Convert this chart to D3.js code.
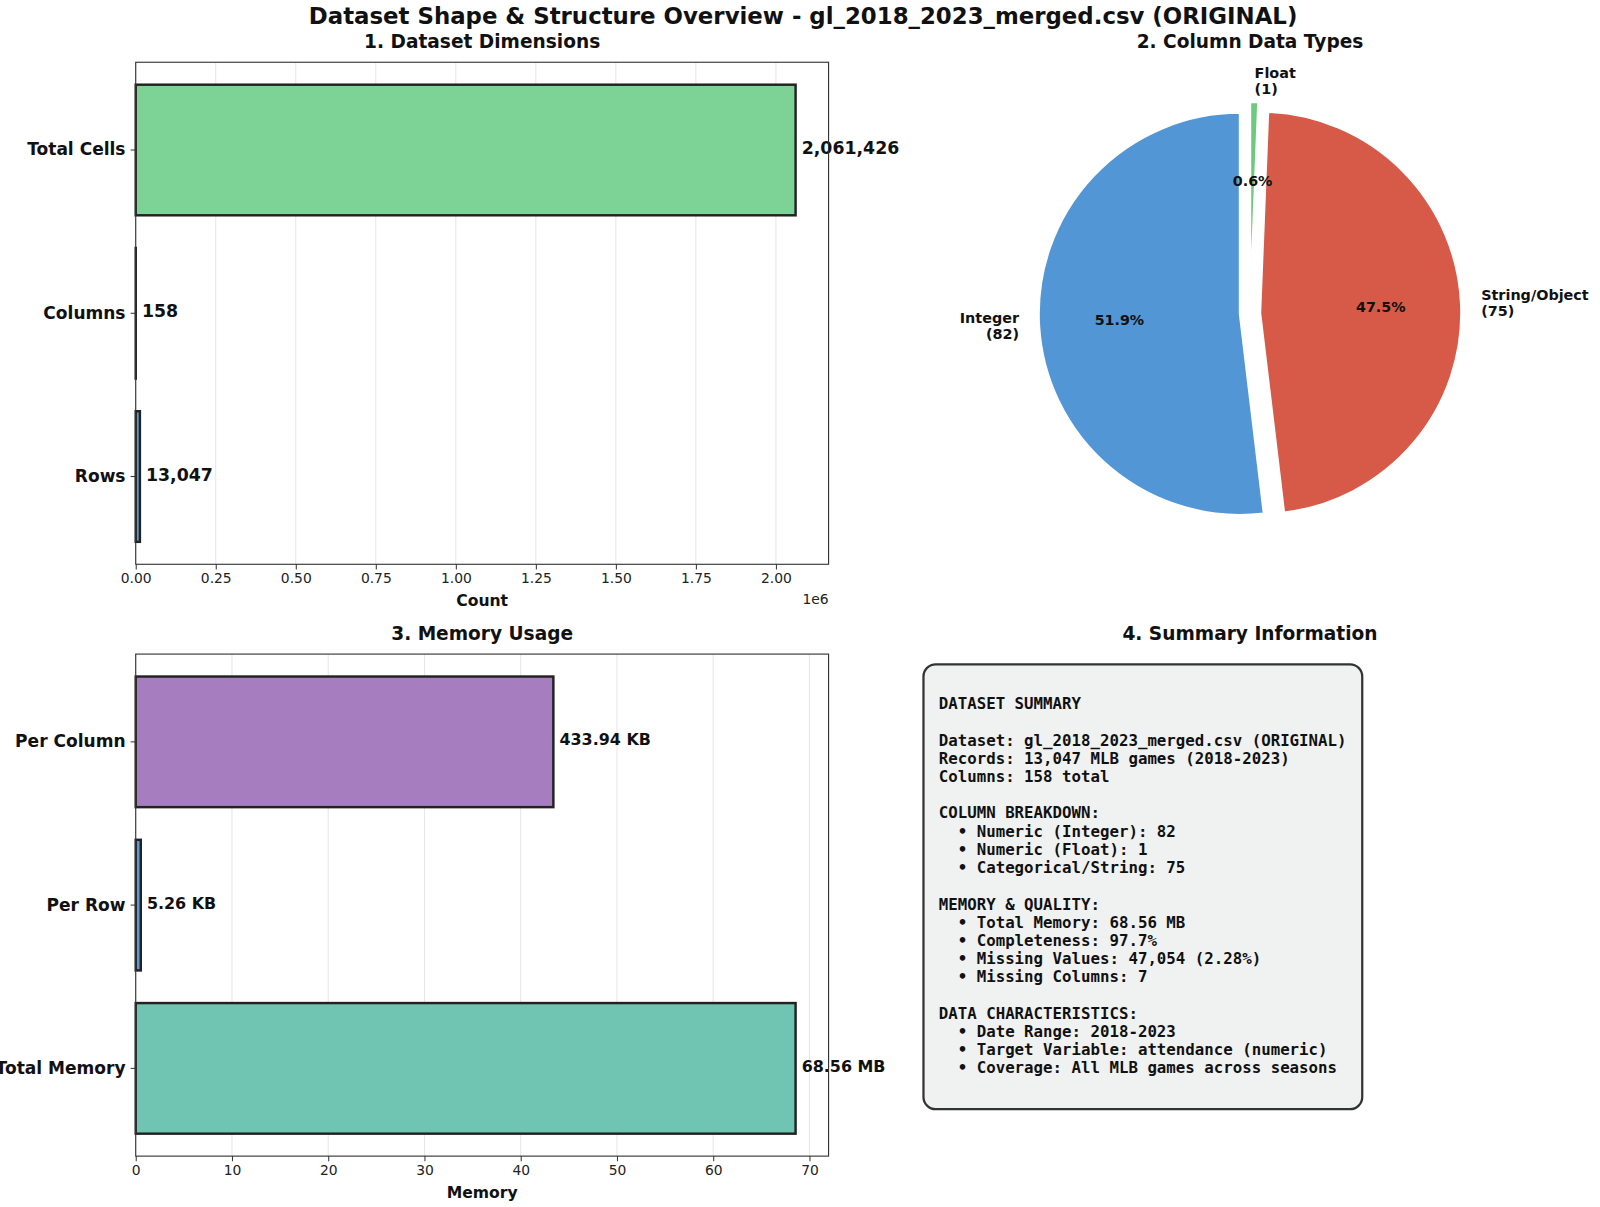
<!DOCTYPE html>
<html>
<head>
<meta charset="utf-8">
<script src="https://cdn.jsdelivr.net/npm/d3@7/dist/d3.min.js"></script>
<style>
  html, body { margin: 0; padding: 0; background: #fff; }
  svg { display: block; font-family: "DejaVu Sans", sans-serif; }
</style>
</head>
<body>
<svg id="chart" width="1600" height="1207"></svg>
<script>
// ---------------- DATA ----------------
const mainTitle = "Dataset Shape & Structure Overview - gl_2018_2023_merged.csv (ORIGINAL)";

const dimCategories = ["Total Cells", "Columns", "Rows"];
const dimValues = [2061426, 158, 13047];
const dimLabels = ["2,061,426", "158", "13,047"];
const dimTicks = [0, 0.25, 0.5, 0.75, 1.0, 1.25, 1.5, 1.75, 2.0];

const typeNames = ["Integer", "String/Object", "Float"];
const typeCounts = [82, 75, 1];

const memCategories = ["Per Column", "Per Row", "Total Memory"];
const memValues = [43.394, 0.526, 68.56];
const memLabels = ["433.94 KB", "5.26 KB", "68.56 MB"];
const memTicks = [0, 10, 20, 30, 40, 50, 60, 70];

const summaryLines = [
  "DATASET SUMMARY",
  "",
  "Dataset: gl_2018_2023_merged.csv (ORIGINAL)",
  "Records: 13,047 MLB games (2018-2023)",
  "Columns: 158 total",
  "",
  "COLUMN BREAKDOWN:",
  "  \u2022 Numeric (Integer): 82",
  "  \u2022 Numeric (Float): 1",
  "  \u2022 Categorical/String: 75",
  "",
  "MEMORY & QUALITY:",
  "  \u2022 Total Memory: 68.56 MB",
  "  \u2022 Completeness: 97.7%",
  "  \u2022 Missing Values: 47,054 (2.28%)",
  "  \u2022 Missing Columns: 7",
  "",
  "DATA CHARACTERISTICS:",
  "  \u2022 Date Range: 2018-2023",
  "  \u2022 Target Variable: attendance (numeric)",
  "  \u2022 Coverage: All MLB games across seasons"
];

// ---------------- STYLE ----------------
const dimColors = { "Total Cells": "#7dd396", "Columns": "#d65a47", "Rows": "#5b9bd5" };
const memColors = { "Per Column": "#a67dbf", "Per Row": "#5b9bd5", "Total Memory": "#6fc5b2" };
const pieColors = { "Integer": "#5296d5", "String/Object": "#d65a47", "Float": "#6cc97f" };

const root = d3.select("#chart").append("g").attr("transform", `scale(${1 / 0.98})`);
const svg = root;

svg.append("text")
  .attr("x", 787).attr("y", 23.5)
  .attr("text-anchor", "middle")
  .attr("font-size", 22.4).attr("font-weight", "bold")
  .attr("fill", "#111")
  .text(mainTitle);

// ---------------- BAR PANEL ----------------
function barPanel(opts) {
  const { left, right, top, bottom, cats, vals, labels, colors, ticks, tickFmt, xTitle, title, offsetText, valSize } = opts;
  const maxV = d3.max(vals);
  const x = d3.scaleLinear().domain([0, maxV * 1.05]).range([left, right]);
  const y = d3.scaleBand().domain(cats).range([top, bottom]).paddingInner(0.2).paddingOuter(0.1375);
  const g = svg.append("g");

  g.append("text")
    .attr("x", (left + right) / 2).attr("y", top - 14)
    .attr("text-anchor", "middle")
    .attr("font-size", 18.2).attr("font-weight", "bold").attr("fill", "#111")
    .text(title);

  g.selectAll("line.grid").data(ticks).enter().append("line")
    .attr("class", "grid")
    .attr("x1", d => x(d)).attr("x2", d => x(d))
    .attr("y1", top).attr("y2", bottom)
    .attr("stroke", "#e6e6e6").attr("stroke-width", 1);

  g.selectAll("rect.bar").data(cats).enter().append("rect")
    .attr("class", "bar")
    .attr("x", x(0))
    .attr("y", d => y(d))
    .attr("width", (d, i) => Math.max(0, x(vals[i]) - x(0)))
    .attr("height", y.bandwidth())
    .attr("fill", d => colors[d])
    .attr("stroke", "#222").attr("stroke-width", 2.4);

  g.selectAll("text.val").data(cats).enter().append("text")
    .attr("class", "val")
    .attr("x", (d, i) => x(vals[i]) + 6)
    .attr("y", d => y(d) + y.bandwidth() / 2 - 1)
    .attr("dominant-baseline", "middle")
    .attr("font-size", valSize).attr("font-weight", "bold").attr("fill", "#111")
    .text((d, i) => labels[i]);

  g.append("rect")
    .attr("x", left).attr("y", top)
    .attr("width", right - left).attr("height", bottom - top)
    .attr("fill", "none").attr("stroke", "#333").attr("stroke-width", 1.1);

  const xa = g.append("g").attr("transform", `translate(0,${bottom})`)
    .call(d3.axisBottom(x).tickValues(ticks).tickFormat(tickFmt).tickSize(5).tickPadding(4));
  xa.select(".domain").remove();
  xa.selectAll(".tick line").attr("stroke", "#333");
  xa.selectAll(".tick text").attr("font-size", 13.6).attr("fill", "#222")
    .attr("font-family", "DejaVu Sans, sans-serif");

  const ya = g.append("g").attr("transform", `translate(${left},0)`)
    .call(d3.axisLeft(y).tickSize(5).tickPadding(5));
  ya.select(".domain").remove();
  ya.selectAll(".tick line").attr("stroke", "#333");
  ya.selectAll(".tick text").attr("font-size", 16.7).attr("font-weight", "bold").attr("fill", "#111")
    .attr("font-family", "DejaVu Sans, sans-serif");

  g.append("text")
    .attr("x", (left + right) / 2).attr("y", bottom + 41)
    .attr("text-anchor", "middle")
    .attr("font-size", 15.3).attr("font-weight", "bold").attr("fill", "#111")
    .text(xTitle);

  if (offsetText) {
    g.append("text")
      .attr("x", right).attr("y", bottom + 39)
      .attr("text-anchor", "end")
      .attr("font-size", 13.6).attr("fill", "#222")
      .text(offsetText);
  }
}

barPanel({
  left: 133, right: 812, top: 61, bottom: 553,
  cats: dimCategories, vals: dimValues, labels: dimLabels, colors: dimColors,
  ticks: dimTicks.map(t => t * 1e6), tickFmt: d => d3.format(".2f")(d / 1e6),
  xTitle: "Count", title: "1. Dataset Dimensions", offsetText: "1e6", valSize: 17
});

barPanel({
  left: 133, right: 812, top: 641, bottom: 1133,
  cats: memCategories, vals: memValues, labels: memLabels, colors: memColors,
  ticks: memTicks, tickFmt: d => String(d),
  xTitle: "Memory", title: "3. Memory Usage", offsetText: null, valSize: 15.6
});

// ---------------- PIE ----------------
(function () {
  const cx = 1225, cy = 307, r = 197, ex = 10;
  const total = d3.sum(typeCounts);
  const pieData = d3.pie().sort(null).startAngle(0).endAngle(-2 * Math.PI)(typeCounts);
  const arc = d3.arc().innerRadius(0).outerRadius(r);
  const g = svg.append("g").attr("transform", `translate(${cx},${cy})`);

  svg.append("text")
    .attr("x", cx).attr("y", 47)
    .attr("text-anchor", "middle")
    .attr("font-size", 18.2).attr("font-weight", "bold").attr("fill", "#111")
    .text("2. Column Data Types");

  pieData.forEach((d, i) => {
    const mid = (d.startAngle + d.endAngle) / 2;
    const ox = Math.sin(mid) * ex, oy = -Math.cos(mid) * ex;
    g.append("path")
      .attr("d", arc(d))
      .attr("transform", `translate(${ox},${oy})`)
      .attr("fill", pieColors[typeNames[i]])
      .attr("stroke", "#fff").attr("stroke-width", 2);
  });

  pieData.forEach((d, i) => {
    const mid = (d.startAngle + d.endAngle) / 2;
    const sx = Math.sin(mid), sy = -Math.cos(mid);
    const ox = sx * ex, oy = sy * ex;
    const pr = 0.6 * r;
    g.append("text")
      .attr("x", ox + sx * pr).attr("y", oy + sy * pr)
      .attr("text-anchor", "middle").attr("dominant-baseline", "middle")
      .attr("font-size", 14).attr("font-weight", "bold").attr("fill", "#111")
      .text((typeCounts[i] / total * 100).toFixed(1) + "%");
    const lr = 1.1 * r;
    const lx = ox + sx * lr, ly = oy + sy * lr;
    const t = g.append("text")
      .attr("text-anchor", lx < 0 ? "end" : "start")
      .attr("font-size", 14.1).attr("font-weight", "bold").attr("fill", "#111");
    const lines = [typeNames[i], "(" + typeCounts[i] + ")"];
    const lh = 16.5;
    lines.forEach((ln, k) => {
      t.append("tspan")
        .attr("x", lx)
        .attr("y", ly + (k - (lines.length - 1) / 2) * lh)
        .attr("dominant-baseline", "middle")
        .text(ln);
    });
  });
})();

// ---------------- SUMMARY ----------------
(function () {
  svg.append("text")
    .attr("x", 1225).attr("y", 627)
    .attr("text-anchor", "middle")
    .attr("font-size", 18.2).attr("font-weight", "bold").attr("fill", "#111")
    .text("4. Summary Information");

  svg.append("rect")
    .attr("x", 905).attr("y", 651)
    .attr("width", 430).attr("height", 436)
    .attr("rx", 12).attr("ry", 12)
    .attr("fill", "#f0f1f1").attr("stroke", "#333").attr("stroke-width", 2.2);

  const t = svg.append("text")
    .style("font-family", "'DejaVu Sans Mono', monospace")
    .attr("font-size", 15.45).attr("font-weight", "bold").attr("fill", "#111")
    .attr("xml:space", "preserve")
    .style("white-space", "pre");
  summaryLines.forEach((ln, k) => {
    t.append("tspan")
      .attr("x", 920)
      .attr("y", 695 + k * 17.85)
      .text(ln.length ? ln : " ");
  });
})();
</script>
</body>
</html>
